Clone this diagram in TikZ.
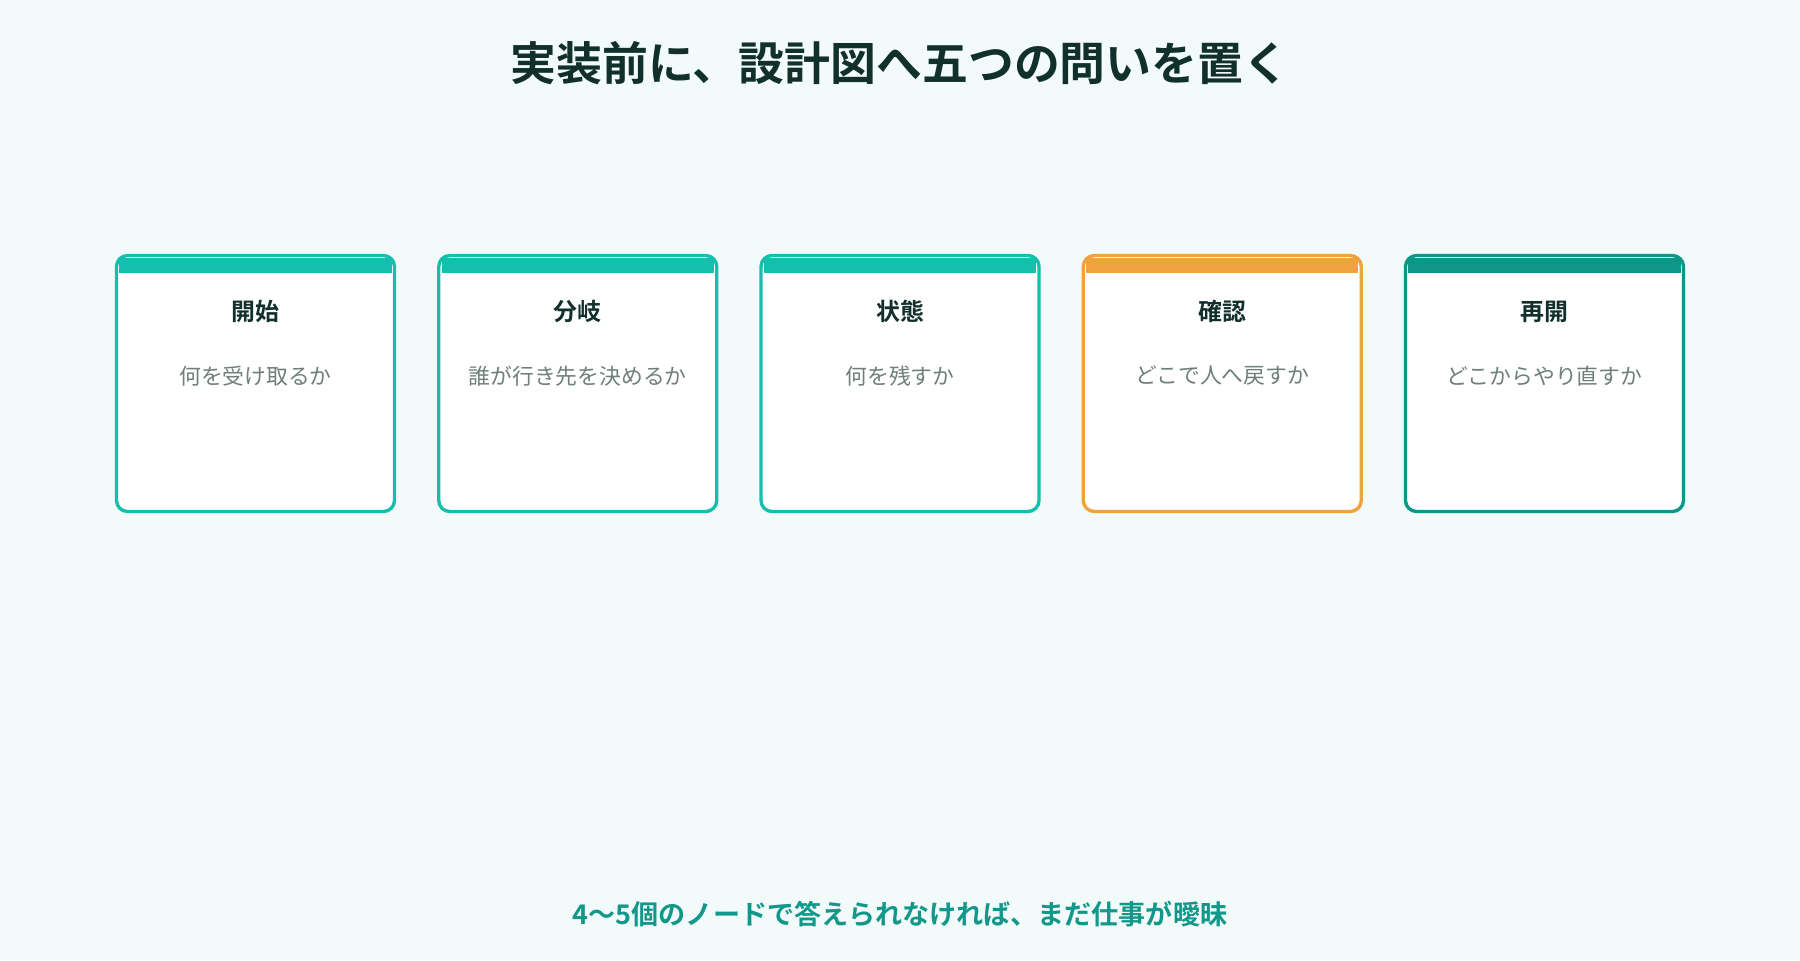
\documentclass[tikz,border=0pt]{standalone}
\usepackage{fontspec}
\setmainfont{Noto Sans CJK JP}[BoldFont={Noto Sans CJK JP Bold}]
\usetikzlibrary{positioning}
\definecolor{bgmint}{HTML}{F2FBFA}
\definecolor{inkdark}{HTML}{12302B}
\definecolor{subgrey}{HTML}{6E7F7C}
\definecolor{tealA}{HTML}{14BFAE}
\definecolor{amber}{HTML}{F0A23C}
\definecolor{tealB}{HTML}{0E9688}
\definecolor{footteal}{HTML}{12988A}
\tikzset{card/.style={draw=#1,line width=0.95pt,fill=white,rounded corners=0.11cm,minimum width=2.78cm,minimum height=2.56cm,inner sep=0pt},
cardhead/.style={font=\fontsize{6.8}{8}\selectfont\bfseries,text=inkdark},
cardsub/.style={font=\fontsize{6.2}{7.4}\selectfont,text=subgrey}}

\begin{document}
\begin{tikzpicture}
\fill[bgmint] (0,0) rectangle (18,9.6);
\node (title) at (9,8.97) [font=\fontsize{13.05}{15.5}\selectfont\bfseries,text=inkdark] {実装前に、設計図へ五つの問いを置く};
\foreach \i/\col/\head/\sub in {1/tealA/開始/何を受け取るか,2/tealA/分岐/誰が行き先を決めるか,3/tealA/状態/何を残すか,4/amber/確認/どこで人へ戻すか,5/tealB/再開/どこからやり直すか}{
\node (c\i) at (2.555+3.2225*\i-3.2225,5.765) [card=\col] {};
\fill[\col] ([xshift=0.045cm,yshift=-0.045cm]c\i.north west) rectangle ([xshift=-0.045cm,yshift=-0.19cm]c\i.north east);
\node (h\i) at ([yshift=-0.58cm]c\i.north) [cardhead] {\head};
\node (s\i) at ([yshift=-1.22cm]c\i.north) [cardsub] {\sub};
}
\node (foot) at (9,0.46) [font=\fontsize{7.7}{9}\selectfont\bfseries,text=footteal] {4〜5個のノードで答えられなければ、まだ仕事が曖昧};
\end{tikzpicture}
\end{document}
